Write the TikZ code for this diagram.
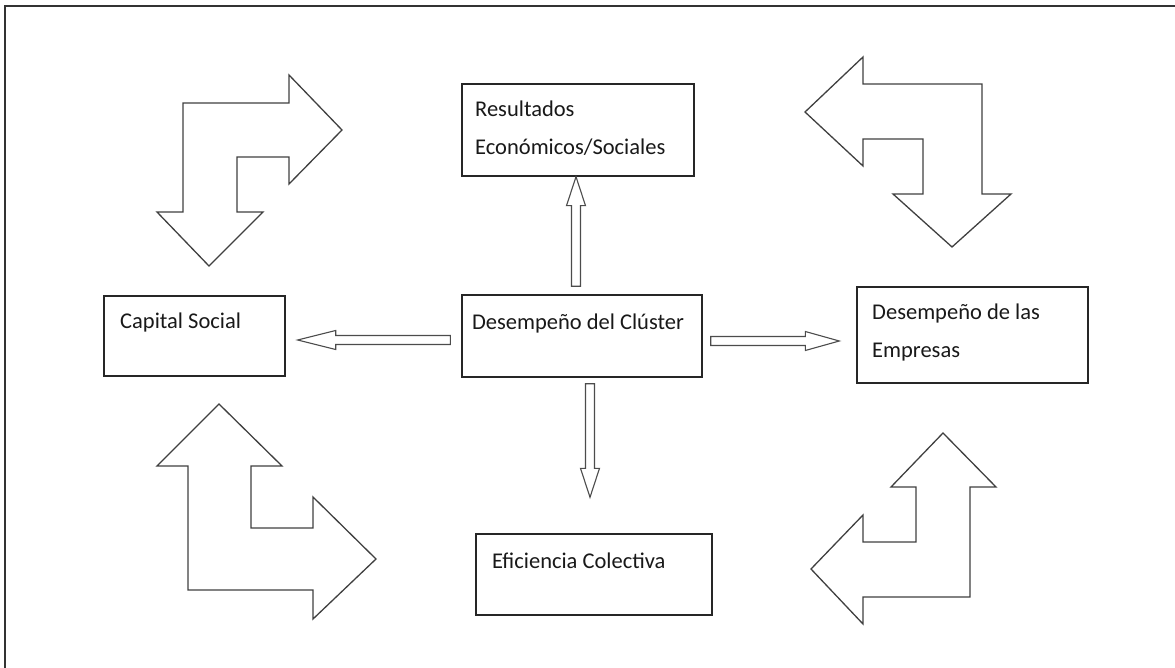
\documentclass[tikz,border=0pt]{standalone}
\usepackage{fontspec}
\setmainfont{Carlito}
\usetikzlibrary{calc}

\tikzset{
  box/.style={draw=black!85, line width=1.4pt, rectangle, inner sep=0pt, fill=white},
  txt/.style={inner sep=0pt, font=\fontsize{22.5}{38}\selectfont, align=left, text=black!90},
  bigarrow/.style={draw=black!75, line width=1.3pt, line join=miter, fill=white},
  hollow/.style={draw=black!70, line width=1.1pt, line join=miter, fill=white},
  frameline/.style={draw=black!80, line width=2pt}
}

% hollow block arrow from #1 to #2 with a head #3 long
\newcommand\flowarrow[3]{%
  \coordinate (hb) at ($(#2)!#3!(#1)$);
  \draw[hollow] ($(#1)!4.5pt!90:(#2)$) -- ($(hb)!4.5pt!90:(#2)$)
    -- ($(hb)!9.5pt!90:(#2)$) -- (#2) -- ($(hb)!9.5pt!-90:(#2)$)
    -- ($(hb)!4.5pt!-90:(#2)$) -- ($(#1)!4.5pt!-90:(#2)$) -- cycle;
}

\begin{document}
\begin{tikzpicture}[x=1pt, y=-1pt]
\useasboundingbox (0,0) rectangle (1175,668);

% outer frame (top and left edges)
\draw[frameline] (1175,6) -- (5,6) -- (5,668);

% boxes
\node[box, minimum width=232pt, minimum height=92pt] (res) at (578,130) {};
\node[box, minimum width=240pt, minimum height=82pt] (clu) at (582,336) {};
\node[box, minimum width=181pt, minimum height=80pt] (cap) at (194.5,336) {};
\node[box, minimum width=231pt, minimum height=96pt] (emp) at (972.5,335) {};
\node[box, minimum width=236pt, minimum height=81pt] (efi) at (594,574.5) {};

% box texts
\node[txt, anchor=north west] (resT) at (475,101) {Resultados\\Económicos/Sociales};
\node[txt, anchor=base] (cluT) at (578,330) {Desempeño del Clúster};
\node[txt, anchor=base west] (capT) at (120,328) {Capital Social};
\node[txt, anchor=north west] (empT) at (872,304) {Desempeño de las\\Empresas};
\node[txt, anchor=base west] (efiT) at (492,568) {Eficiencia Colectiva};

% connector ends
\coordinate (up0) at ($(clu.north)+(-6,-8)$);
\coordinate (up1) at ($(res.south)+(-2,0)$);
\coordinate (lf0) at ($(clu.west)+(-11,4)$);
\coordinate (lf1) at ($(cap.east)+(12,4)$);
\coordinate (rt0) at ($(clu.east)+(8,5)$);
\coordinate (rt1) at ($(emp.west)+(-17,6)$);
\coordinate (dn0) at ($(clu.south)+(8,6)$);
\coordinate (dn1) at ($(efi.north)+(-4,-36)$);

\flowarrow{up0}{up1}{29pt}
\flowarrow{lf0}{lf1}{38pt}
\flowarrow{rt0}{rt1}{34pt}
\flowarrow{dn0}{dn1}{29pt}

% bent double arrows in the four corners
\draw[bigarrow] (183,103) -- (289,103) -- (289,75) -- (342,130) -- (289,184)
  -- (289,157) -- (237,157) -- (237,212) -- (263,212) -- (209,266)
  -- (157,212) -- (183,212) -- cycle;

\draw[bigarrow] (805,112) -- (863,57) -- (863,84) -- (982,84) -- (982,194)
  -- (1011,194) -- (952,247) -- (893,194) -- (923,194) -- (923,139)
  -- (863,139) -- (863,166) -- cycle;

\draw[bigarrow] (219,404) -- (282,466) -- (251,466) -- (251,528) -- (313,528)
  -- (313,497) -- (376,559) -- (313,619) -- (313,590) -- (188,590)
  -- (188,466) -- (157,466) -- cycle;

\draw[bigarrow] (943,433) -- (996,487) -- (970,487) -- (970,597) -- (863,597)
  -- (863,624) -- (811,569) -- (863,515) -- (863,542) -- (916,542)
  -- (916,487) -- (891,487) -- cycle;
\end{tikzpicture}
\end{document}
